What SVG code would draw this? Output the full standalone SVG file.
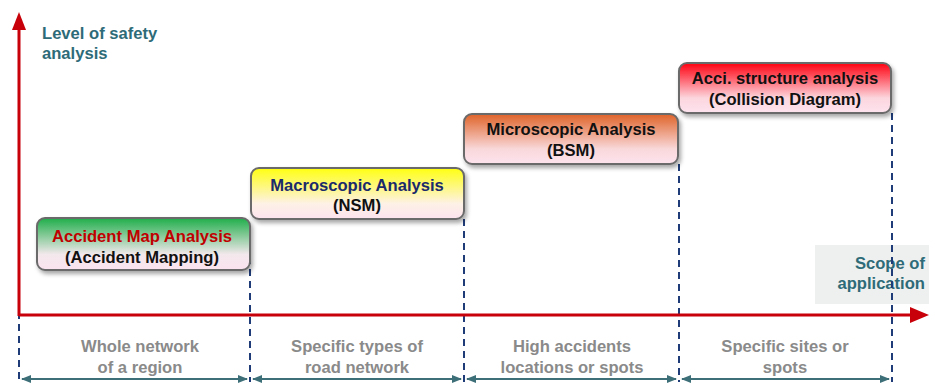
<svg xmlns="http://www.w3.org/2000/svg" width="929" height="383" viewBox="0 0 929 383">
<defs>
<style>
.t{font-family:"Liberation Sans",Arial,sans-serif;font-weight:bold;text-anchor:middle;font-size:16.6px}
.box{stroke:#6b6b6b;stroke-width:2}
.dash{stroke:#1f3c78;stroke-width:2;stroke-dasharray:7,5;fill:none}
.dim{stroke:#3d6f78;stroke-width:2;fill:none;marker-start:url(#dA);marker-end:url(#dA)}
.axis{stroke:#c8000a;stroke-width:3;fill:none}
</style>
<linearGradient id="gG" x1="0" y1="0" x2="0" y2="1"><stop offset="0" stop-color="#1fae4a"/><stop offset="0.7" stop-color="#f3e8ec"/><stop offset="1" stop-color="#fbe3ef"/></linearGradient>
<linearGradient id="gY" x1="0" y1="0" x2="0" y2="1"><stop offset="0" stop-color="#ffff10"/><stop offset="0.7" stop-color="#fdf1e6"/><stop offset="1" stop-color="#fde3ee"/></linearGradient>
<linearGradient id="gO" x1="0" y1="0" x2="0" y2="1"><stop offset="0" stop-color="#df6328"/><stop offset="0.7" stop-color="#f9d8da"/><stop offset="1" stop-color="#fde3ee"/></linearGradient>
<linearGradient id="gR" x1="0" y1="0" x2="0" y2="1"><stop offset="0" stop-color="#ff0010"/><stop offset="0.7" stop-color="#fcd6de"/><stop offset="1" stop-color="#fde3ee"/></linearGradient>
<filter id="sh" x="-10%" y="-20%" width="120%" height="150%"><feDropShadow dx="2" dy="3" stdDeviation="2" flood-color="#000" flood-opacity="0.35"/></filter>
<marker id="dA" viewBox="0 0 10 10" refX="9" refY="5" markerWidth="5" markerHeight="5" orient="auto-start-reverse" markerUnits="strokeWidth"><path d="M0,1 L10,5 L0,9 z" fill="#3d6f78"/></marker>
</defs>
<rect width="929" height="383" fill="#ffffff"/>
<g id="scope">
<rect x="815" y="245" width="114" height="59" fill="#eef0f0"/>
<text class="t" x="925" y="269" fill="#2e6b78" style="text-anchor:end">Scope of</text>
<text class="t" x="925" y="289" fill="#2e6b78" style="text-anchor:end">application</text>
</g>
<g id="connectors">
<path class="dash" d="M19 240 V382"/>
<path class="dash" d="M250 245 V382"/>
<path class="dash" d="M464 219 V382"/>
<path class="dash" d="M679 164 V382"/>
<path class="dash" d="M892 113 V382"/>
<path class="axis" d="M19 316 V26"/>
<path d="M12 30 L19 12 L26 30 z" fill="#c8000a"/>
<path class="axis" d="M19 315 H912"/>
<path d="M910 307 L929 315 L910 323 z" fill="#c8000a"/>
<path class="dim" d="M22 379 H247"/>
<path class="dim" d="M253 379 H461"/>
<path class="dim" d="M467 379 H676"/>
<path class="dim" d="M682 379 H889"/>
</g>
<g id="yaxis-label">
<text class="t" x="42" y="39" fill="#2e6b78" style="text-anchor:start">Level of safety</text>
<text class="t" x="42" y="59" fill="#2e6b78" style="text-anchor:start">analysis</text>
</g>
<g id="n1">
<rect class="box" x="37" y="218" width="213" height="52" rx="8" fill="url(#gG)" filter="url(#sh)"/>
<text class="t" x="142" y="242" fill="#c00000">Accident Map Analysis</text>
<text class="t" x="142" y="263" fill="#111">(Accident Mapping)</text>
</g>
<g id="n2">
<rect class="box" x="251" y="168" width="213" height="51" rx="8" fill="url(#gY)" filter="url(#sh)"/>
<text class="t" x="357" y="191" fill="#1a2a6a">Macroscopic Analysis</text>
<text class="t" x="357" y="211" fill="#111">(NSM)</text>
</g>
<g id="n3">
<rect class="box" x="464" y="114" width="214" height="50" rx="8" fill="url(#gO)" filter="url(#sh)"/>
<text class="t" x="571" y="135" fill="#111">Microscopic Analysis</text>
<text class="t" x="571" y="156" fill="#111">(BSM)</text>
</g>
<g id="n4">
<rect class="box" x="679" y="63" width="212" height="50" rx="8" fill="url(#gR)" filter="url(#sh)"/>
<text class="t" x="785" y="84" fill="#111">Acci. structure analysis</text>
<text class="t" x="785" y="105" fill="#111">(Collision Diagram)</text>
</g>
<g id="labels">
<text class="t" x="140" y="352" fill="#8a8a8a">Whole network</text>
<text class="t" x="140" y="373" fill="#8a8a8a">of a region</text>
<text class="t" x="357" y="352" fill="#8a8a8a">Specific types of</text>
<text class="t" x="357" y="373" fill="#8a8a8a">road network</text>
<text class="t" x="572" y="352" fill="#8a8a8a">High accidents</text>
<text class="t" x="572" y="373" fill="#8a8a8a">locations or spots</text>
<text class="t" x="785" y="352" fill="#8a8a8a">Specific sites or</text>
<text class="t" x="785" y="373" fill="#8a8a8a">spots</text>
</g>
</svg>
